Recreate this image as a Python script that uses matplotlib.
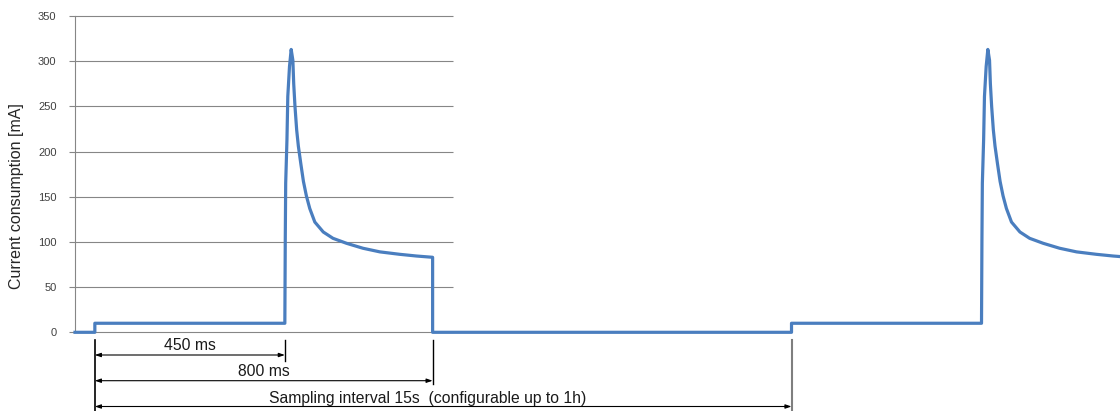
import matplotlib.pyplot as plt
from matplotlib.transforms import blended_transform_factory

plt.rcParams['font.family'] = ['Liberation Sans', 'DejaVu Sans']

# one measurement cycle: idle step, radio burst peak, decay, switch-off
pulse_t = [0, 0, 450, 451, 452, 455, 457, 461, 465, 469, 471, 474, 478, 482,
           488, 494, 501, 509, 521, 541, 564, 596, 635, 675, 722, 762, 800, 800]
pulse_ma = [0, 10, 10, 102, 165, 213, 261, 294, 313, 301, 275, 250, 224, 206,
            186, 167, 151, 137, 122, 111, 104, 98.5, 93, 89, 86.3, 84.4, 83, 0]

lead_in_ms = -47
cycle_ms = 1650          # 15 s sampling interval, drawn compressed
view_end_ms = 2428

yticks = [0, 50, 100, 150, 200, 250, 300, 350]
grid_end_ms = 848

spans = [(450, '450 ms'), (800, '800 ms'),
         (cycle_ms, 'Sampling interval 15s  (configurable up to 1h)')]

t = [lead_in_ms] + pulse_t + [cycle_ms + p for p in pulse_t]
ma = [0] + pulse_ma + pulse_ma

fig = plt.figure(figsize=(11.2, 4.11), dpi=100)
ax = fig.add_axes([75 / 1120, 1 - 332.3 / 411, 1 - 75 / 1120, (332.3 - 16) / 411])

grey = '#868686'
ax.hlines(yticks, lead_in_ms, grid_end_ms, color=grey, lw=0.8, zorder=1, clip_on=False)
ax.plot(t, ma, color='#4a7ebf', lw=2.3, solid_joinstyle='round',
        clip_on=False, zorder=3)

ax.set_xlim(lead_in_ms, view_end_ms)
ax.set_ylim(0, 350)
ax.set_yticks(yticks)
ax.set_xticks([])
for side in ['top', 'right', 'bottom']:
    ax.spines[side].set_visible(False)
ax.spines['left'].set_color(grey)
ax.spines['left'].set_linewidth(0.8)
ax.tick_params(axis='y', direction='out', length=4.3, width=0.8, color=grey,
               labelsize=8, labelcolor='#404040', pad=9)
ax.set_ylabel('Current consumption [mA]', fontsize=11.5, color='#262626')
ax.yaxis.set_label_coords(-0.0488, 0.431)

# timing dimension lines under the trace
tr = blended_transform_factory(ax.transData, fig.transFigure)
top_y = 1 - 340 / 411
ax.plot([0, 0], [top_y, 0], transform=tr, color='black', lw=1.2, clip_on=False)
ax.plot([450, 450], [top_y, 1 - 361 / 411], transform=tr, color='black', lw=1.0, clip_on=False)
ax.plot([800, 800], [top_y, 1 - 384 / 411], transform=tr, color='black', lw=1.0, clip_on=False)
ax.plot([cycle_ms, cycle_ms], [top_y, 0], transform=tr, color='#7f7f7f', lw=1.5, clip_on=False)

arrow_y = [1 - 355 / 411, 1 - 380.7 / 411, 1 - 406.5 / 411]
text_y = [1 - 345 / 411, 1 - 371 / 411, 1 - 398 / 411]
text_x = [225, 400, 789]
for (end, label), ay, ty, tx in zip(spans, arrow_y, text_y, text_x):
    ax.annotate('', xy=(end, ay), xytext=(0, ay), xycoords=tr, textcoords=tr,
                arrowprops=dict(arrowstyle='<|-|>,head_length=0.35,head_width=0.12',
                                color='black', lw=0.8, shrinkA=0, shrinkB=0))
    ax.text(tx, ty, label, transform=tr, ha='center', va='center',
            fontsize=11.3, color='#1a1a1a')

fig.savefig('out.png', dpi=100)
